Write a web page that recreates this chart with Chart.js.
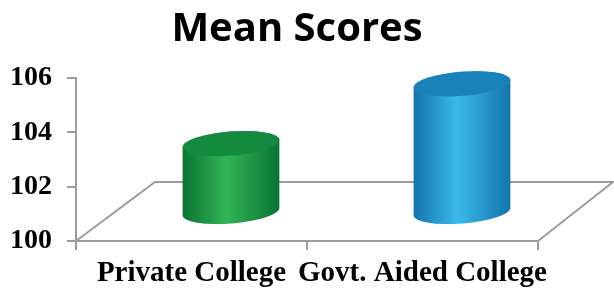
<!DOCTYPE html>
<html>
<head>
<meta charset="utf-8">
<script src="https://cdn.jsdelivr.net/npm/chart.js@4"></script>
<style>
  html, body { margin: 0; padding: 0; background: #fff; }
  #wrap { width: 614px; height: 291px; }
</style>
</head>
<body>
<div id="wrap"><canvas id="myChart" width="614" height="291"></canvas></div>
<script>
var categories = ["Private College", "Govt. Aided College"];
var meanScores = [102.5, 104.7];
var yTicks = [100, 102, 104, 106];

var sideColors = [
  ["#0a7332", "#33b456", "#0a7332"],
  ["#1573ab", "#3ab9ea", "#1573ab"]
];
var topColors = ["#148a3e", "#1a82bb"];

// depth of the fake 3d floor
var depthX = 79;
var depthY = -59;

var cylinders = {
  id: "cylinders",
  beforeDatasetsDraw: function (chart) {
    var ctx = chart.ctx;
    var area = chart.chartArea;
    ctx.save();
    ctx.strokeStyle = "#9c9c9c";
    ctx.lineWidth = 2;
    ctx.beginPath();
    ctx.moveTo(area.left, area.bottom);
    ctx.lineTo(area.left + depthX, area.bottom + depthY);
    ctx.lineTo(area.right + depthX - 4, area.bottom + depthY);
    ctx.lineTo(area.right, area.bottom);
    ctx.stroke();
    ctx.restore();
  },
  afterDatasetsDraw: function (chart) {
    var ctx = chart.ctx;
    var meta = chart.getDatasetMeta(0);
    var yScale = chart.scales.y;
    var base = yScale.getPixelForValue(yTicks[0]);
    var rot = -0.08;
    var ry = 12;

    meta.data.forEach(function (bar, i) {
      var rx = bar.width / 2;
      var cx = bar.x + depthX / 2;
      var topY = yScale.getPixelForValue(meanScores[i]) + depthY / 2;
      var botY = base + depthY / 2;

      ctx.save();
      var grad = ctx.createLinearGradient(cx - rx, 0, cx + rx, 0);
      grad.addColorStop(0, sideColors[i][0]);
      grad.addColorStop(0.45, sideColors[i][1]);
      grad.addColorStop(1, sideColors[i][2]);

      ctx.beginPath();
      ctx.ellipse(cx, botY, rx, ry, rot, 0, Math.PI, false);
      ctx.ellipse(cx, topY, rx, ry, rot, Math.PI, 2 * Math.PI, false);
      ctx.closePath();
      ctx.fillStyle = grad;
      ctx.fill();

      ctx.beginPath();
      ctx.ellipse(cx, topY, rx, ry, rot, 0, 2 * Math.PI);
      ctx.fillStyle = topColors[i];
      ctx.fill();
      ctx.restore();
    });
  }
};

const ctx = document.getElementById("myChart");

new Chart(ctx, {
  type: "bar",
  data: {
    labels: categories,
    datasets: [
      {
        data: meanScores,
        backgroundColor: "rgba(0,0,0,0)",
        borderWidth: 0,
        barPercentage: 0.42,
        categoryPercentage: 1,
      },
    ],
  },
  plugins: [cylinders],
  options: {
    responsive: false,
    animation: false,
    layout: {
      padding: { left: 0, right: 20, top: 0, bottom: 0 },
    },
    plugins: {
      legend: { display: false },
      tooltip: { enabled: false },
      title: {
        display: true,
        text: "Mean Scores",
        color: "#000",
        font: { family: "'Open Sans'", size: 40, weight: "bold" },
        padding: { top: 6, bottom: 24 },
      },
    },
    scales: {
      x: {
        offset: true,
        grid: {
          display: true,
          drawOnChartArea: false,
          offset: true,
          tickLength: 9,
          color: "#9c9c9c",
          lineWidth: 2,
        },
        border: { color: "#9c9c9c", width: 2 },
        ticks: {
          color: "#000",
          padding: 6,
          maxRotation: 0,
          minRotation: 0,
          autoSkip: false,
          font: { family: "'Liberation Serif'", size: 29, weight: "bold" },
        },
        afterFit: function (scale) {
          scale.height = 50;
        },
      },
      y: {
        min: 100,
        max: 106,
        afterBuildTicks: function (scale) {
          scale.ticks = yTicks.map(function (v) { return { value: v }; });
        },
        grid: {
          display: true,
          drawOnChartArea: false,
          tickLength: 9,
          color: "#9c9c9c",
          lineWidth: 2,
        },
        border: { color: "#9c9c9c", width: 2 },
        ticks: {
          color: "#000",
          padding: 15,
          font: { family: "'Liberation Serif'", size: 28, weight: "bold" },
        },
        afterFit: function (scale) {
          scale.width = 76;
        },
      },
      // empty axis that only reserves room on the right for the floor
      spacer: {
        position: "right",
        display: true,
        grid: { display: false },
        border: { display: false },
        ticks: { display: false },
        afterFit: function (scale) {
          scale.width = 56;
        },
      },
    },
  },
});
</script>
</body>
</html>
